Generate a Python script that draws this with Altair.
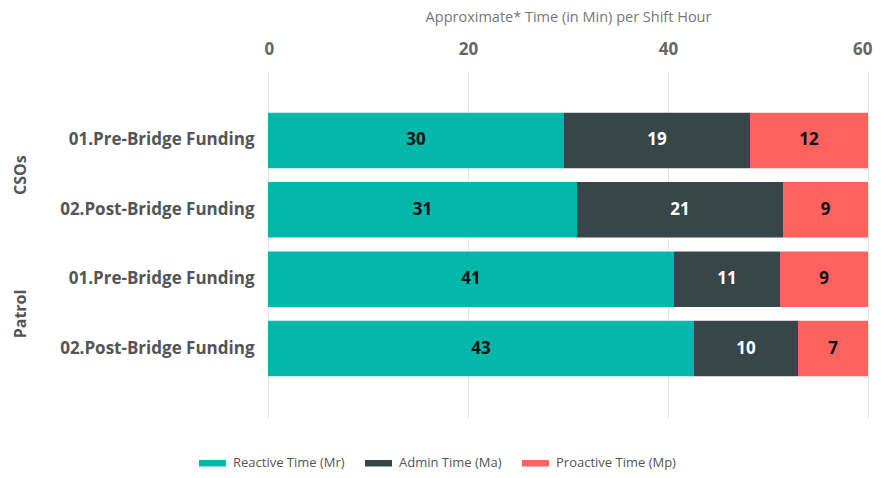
import altair as alt
import pandas as pd

groups = ["CSOs", "CSOs", "Patrol", "Patrol"]
phases = ["01.Pre-Bridge Funding", "02.Post-Bridge Funding",
          "01.Pre-Bridge Funding", "02.Post-Bridge Funding"]
series = ["Reactive Time (Mr)", "Admin Time (Ma)", "Proactive Time (Mp)"]
reactive = [29.6, 30.9, 40.6, 42.6]
admin = [18.6, 20.6, 10.6, 10.4]
proactive = [11.8, 8.5, 8.8, 7.0]
colors = ["#01B8AA", "#374649", "#FD625E"]
x_ticks = [0, 20, 40, 60]

rows = []
for i in range(len(groups)):
    key = groups[i] + "|" + phases[i]
    for j, vals in enumerate([reactive, admin, proactive]):
        rows.append({"key": key, "group": groups[i], "phase": phases[i],
                     "series": series[j], "order": j, "value": vals[i]})
df = pd.DataFrame(rows)
keys = [g + "|" + p for g, p in zip(groups, phases)]

grp_df = pd.DataFrame({"key": [keys[0], keys[2]], "label": [groups[0], groups[2]]})

FONT = "Open Sans"

yscale = alt.Scale(domain=keys, paddingInner=0.2, paddingOuter=0.6)
xscale = alt.Scale(domain=[0, 60], nice=False)

base = alt.Chart(df).transform_window(
    end="sum(value)", sort=[alt.SortField("order")], groupby=["key"],
    frame=[None, 0]
).transform_calculate(
    start="datum.end - datum.value",
    mid="datum.end - datum.value / 2"
)

bars = base.mark_bar().encode(
    y=alt.Y("key:N", scale=yscale, sort=keys, title=None,
            axis=alt.Axis(labelExpr="split(datum.label, '|')[1]",
                          labelFont=FONT, labelFontSize=17, labelFontWeight="bold",
                          labelColor="#555555", labelPadding=14, ticks=False,
                          labelLimit=400, domain=False, grid=False)),
    x=alt.X("start:Q", scale=xscale,
            title="Approximate* Time (in Min) per Shift Hour",
            axis=alt.Axis(orient="top", values=x_ticks, grid=True,
                          gridColor="#e3e3e3", domain=False, ticks=False,
                          labelFlush=True, labelFlushOffset=4,
                          labelFont=FONT, labelFontSize=17, labelFontWeight="bold",
                          labelColor="#666666", labelPadding=13,
                          titleFont=FONT, titleFontSize=14.5, titleFontWeight="normal",
                          titleColor="#777777", titleY=-47)),
    x2="end:Q",
    color=alt.Color("series:N", scale=alt.Scale(domain=series, range=colors),
                    legend=alt.Legend(orient="none", legendX=-69, legendY=378.5,
                                      direction="horizontal", title=None,
                                      symbolType="M-1,-0.24H1V0.24H-1Z",
                                      symbolSize=729, symbolStrokeWidth=0,
                                      labelFont=FONT, labelFontSize=13,
                                      labelColor="#555555", columnPadding=20,
                                      labelOffset=7, labelLimit=300, padding=0)),
    order=alt.Order("order:Q"),
)

labels = base.mark_text(font=FONT, fontSize=17, fontWeight="bold").encode(
    y=alt.Y("key:N", scale=yscale, sort=keys),
    x=alt.X("mid:Q", scale=xscale),
    text=alt.Text("value:Q", format=".0f"),
    color=alt.condition(alt.datum.series == "Admin Time (Ma)",
                        alt.value("#ffffff"), alt.value("#111111")),
)

grp = alt.Chart(grp_df).mark_text(angle=270, font=FONT, fontSize=16, dx=-7,
                                   fontWeight="bold", color="#555555").encode(
    y=alt.Y("key:N", scale=yscale, sort=keys, bandPosition=1),
    x=alt.value(-247),
    text="label:N",
)

chart = alt.layer(bars, labels, grp).properties(
    width=600, height=347,
    autosize=alt.AutoSizeParams(type="none"),
    padding={"left": 260, "top": 63, "right": 5, "bottom": 52},
).configure_view(stroke=None)

chart.save("out.html", embed_options={"renderer": "svg", "actions": False})
